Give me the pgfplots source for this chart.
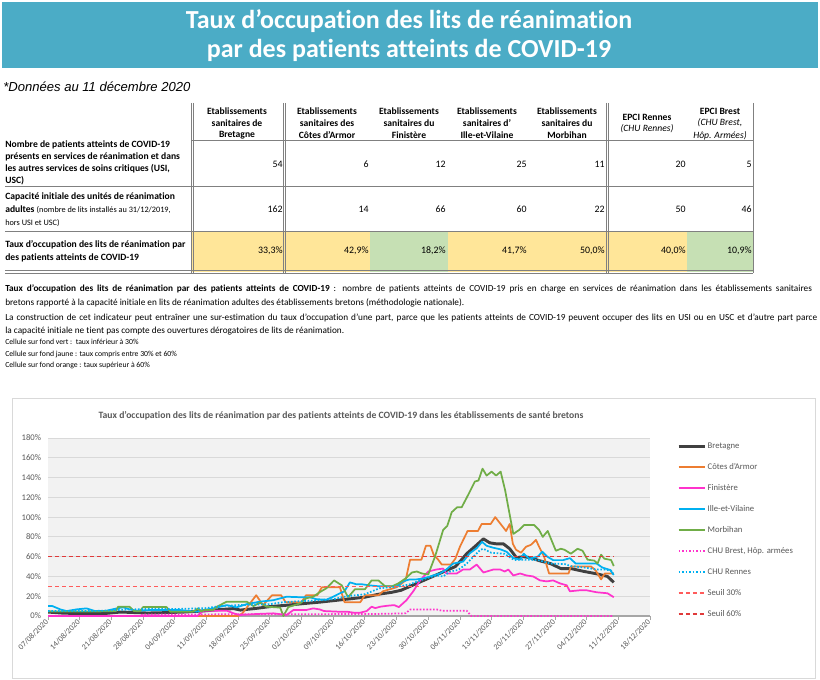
\documentclass[border=0pt]{standalone}
\usepackage{pgfplots}
\pgfplotsset{compat=1.18}
\usepackage{fontspec}
\setmainfont{Carlito}[Ligatures={TeX,NoCommon}]
\newfontfamily\arialfont{Liberation Sans}
\definecolor{banner}{HTML}{4BACC6}
\definecolor{ylw}{HTML}{FFE699}
\definecolor{grn}{HTML}{C6E0B4}
\definecolor{tline}{HTML}{808080}
\definecolor{plotbg}{HTML}{F2F2F2}
\definecolor{gridc}{HTML}{D9D9D9}
\definecolor{txtg}{HTML}{595959}
\definecolor{colBre}{HTML}{404040}
\definecolor{colCot}{HTML}{ED7D31}
\definecolor{colFin}{HTML}{FF33CC}
\definecolor{colIll}{HTML}{00B0F0}
\definecolor{colMor}{HTML}{70AD47}
\definecolor{colSa}{HTML}{FF5B5B}
\definecolor{colSb}{HTML}{E03A3A}
\newcommand{\fs}[1]{\fontsize{#1}{#1}\selectfont}
\newcommand{\lgt}[1]{\textcolor{txtg}{#1}}

\begin{document}
\begin{tikzpicture}
\begin{scope}[x=0.75pt,y=-0.75pt]
\useasboundingbox (0,0) rectangle (820,680);
\fill[white] (0,0) rectangle (820,680);
% banner
\fill[banner] (2,2) rectangle (818,68);
\node[text=white, font=\fs{19.5}\bfseries] at (409,21) {Taux d’occupation des lits de réanimation};
\node[text=white, font=\fs{19.5}\bfseries] at (409,50) {par des patients atteints de COVID-19};
\node[anchor=west, inner sep=0pt, font=\arialfont\itshape\fs{9.8}] at (3,87) {*Données au 11 décembre 2020};
% table backgrounds
\fill[ylw] (192,231) rectangle (370,272);
\fill[grn] (370,231) rectangle (448,272);
\fill[ylw] (448,231) rectangle (687,272);
\fill[grn] (687,231) rectangle (753,272);
% table lines
\draw[tline, line width=0.5pt] (192,140) -- (753,140);
\draw[tline, line width=0.5pt] (5,186) -- (753,186);
\draw[tline, line width=0.5pt] (5,231) -- (753,231);
\draw[tline, line width=0.5pt] (5,270.5) -- (753,270.5);
\draw[tline, line width=0.5pt] (5,273) -- (753,273);
\foreach \xx in {191,283,606}{
  \draw[tline, line width=0.5pt] (\xx,103) -- (\xx,273);
  \draw[tline, line width=0.5pt] (\xx+2.5,103) -- (\xx+2.5,273);
}
\draw[tline, line width=0.5pt] (753,103) -- (753,273);
% header
\tikzset{hd/.style={font=\fs{7.2}\bfseries, inner sep=0pt}}
\foreach \cx/\la/\lb/\lc in {237/Etablissements/sanitaires de/Bretagne,
  327/Etablissements/sanitaires des/Côtes d'Armor,
  409/Etablissements/sanitaires du/Finistère,
  487/Etablissements/sanitaires d'/Ille-et-Vilaine,
  567/Etablissements/sanitaires du/Morbihan}{
  \node[hd] at (\cx,111) {\la};
  \node[hd] at (\cx,123) {\lb};
  \node[hd] at (\cx,135.5) {\lc};
}
\node[hd] at (647,117) {EPCI Rennes};
\node[font=\fs{7.2}\itshape, inner sep=0pt] at (647,129) {(CHU Rennes)};
\node[hd] at (720,111) {EPCI Brest};
\node[font=\fs{7.2}\itshape, inner sep=0pt] at (720,123) {(CHU Brest,};
\node[font=\fs{7.2}\itshape, inner sep=0pt] at (720,135.5) {Hôp. Armées)};
% row labels
\tikzset{rl/.style={font=\fs{7.2}\bfseries, inner sep=0pt, anchor=west}}
\node[rl] at (5,145) {Nombre de patients atteints de COVID-19};
\node[rl] at (5,157) {présents en services de réanimation et dans};
\node[rl] at (5,169) {les autres services de soins critiques (USI,};
\node[rl] at (5,181) {USC)};
\node[rl] at (5,197) {Capacité initiale des unités de réanimation};
\node[rl] at (5,210) {adultes \mdseries\fs{6.2}(nombre de lits installés au 31/12/2019,};
\node[rl, font=\fs{6.2}] at (5,223) {hors USI et USC)};
\node[rl] at (5,245) {Taux d’occupation des lits de réanimation par};
\node[rl] at (5,258) {des patients atteints de COVID-19};
% values
\tikzset{vl/.style={font=\fs{7.4}, inner sep=0pt, anchor=east}}
\foreach \rx/\va/\vb/\vc in {283/54/162/{33,3\%}, 369/6/14/{42,9\%}, 446/12/66/{18,2\%},
  527/25/60/{41,7\%}, 605/11/22/{50,0\%}, 686/20/50/{40,0\%}, 752/5/46/{10,9\%}}{
  \node[vl] at (\rx,164) {\va};
  \node[vl] at (\rx,209) {\vb};
  \node[vl] at (\rx,251) {\vc};
}
% paragraph
\tikzset{pl/.style={font=\fs{6.95}, inner sep=0pt, anchor=west}}
\node[pl] at (5,289) {\makebox[605pt][s]{\textbf{Taux d’occupation des lits de réanimation par des patients atteints de COVID-19} : nombre de patients atteints de COVID-19 pris en charge en services de réanimation dans les établissements sanitaires}};
\node[pl] at (5,303) {bretons rapporté à la capacité initiale en lits de réanimation adultes des établissements bretons (méthodologie nationale).};
\node[pl] at (5,318) {\makebox[609pt][s]{La construction de cet indicateur peut entraîner une sur-estimation du taux d'occupation d'une part, parce que les patients atteints de COVID-19 peuvent occuper des lits en USI ou en USC et d'autre part parce}};
\node[pl] at (5,331) {la capacité initiale ne tient pas compte des ouvertures dérogatoires de lits de réanimation.};
\tikzset{cl/.style={font=\fs{5.8}, inner sep=0pt, anchor=west}}
\node[cl] at (5,342) {Cellule sur fond vert :\ \ taux inférieur à 30\%};
\node[cl] at (5,354) {Cellule sur fond jaune : taux compris entre 30\% et 60\%};
\node[cl] at (5,365) {Cellule sur fond orange : taux supérieur à 60\%};
% chart box
\draw[gridc, line width=0.6pt, fill=white] (12,398) rectangle (815,678);
\node[font=\fs{7.25}\bfseries, text=txtg] at (341,416) {Taux d’occupation des lits de réanimation par des patients atteints de COVID-19 dans les établissements de santé bretons};
\end{scope}

\begin{axis}[
  at={(36pt,-462pt)}, anchor=south west, scale only axis,
  width=451.5pt, height=133.5pt,
  xmin=0, xmax=133, ymin=0, ymax=180,
  axis background/.style={fill=plotbg},
  axis x line*=bottom, axis y line*=left,
  y axis line style={draw=none},
  x axis line style={draw=gray!70, line width=1pt},
  ytick={0,20,...,180},
  yticklabels={0\%,20\%,40\%,60\%,80\%,100\%,120\%,140\%,160\%,180\%},
  ytick style={draw=none},
  ymajorgrids, grid style={gridc, line width=0.6pt},
  xtick={0,7,...,133},
  xticklabels={07/08/2020,14/08/2020,21/08/2020,28/08/2020,04/09/2020,11/09/2020,18/09/2020,25/09/2020,02/10/2020,09/10/2020,16/10/2020,23/10/2020,30/10/2020,06/11/2020,13/11/2020,20/11/2020,27/11/2020,04/12/2020,11/12/2020,18/12/2020},
  tick align=outside, major tick length=3pt,
  xtick style={draw=gray!70, line width=0.6pt},
  xticklabel style={rotate=45, anchor=east, font=\fs{6}, text=txtg, inner sep=1pt},
  yticklabel style={font=\fs{6.5}, text=txtg, inner sep=2pt},
  legend style={at={(1.038,1.0)}, anchor=north west, draw=none, fill=none,
    font=\fs{6.5}, row sep=7.75pt,
    nodes={inner sep=1pt, text height=5pt, text depth=1pt}},
  legend cell align=left,
  legend image code/.code={\draw[mark repeat=2,mark phase=2,#1] plot coordinates {(0pt,0pt) (9.75pt,0pt) (19.5pt,0pt)};},
  every axis plot/.append style={line join=round},
]
\addplot[forget plot, color=colBre, line width=2.2pt] coordinates {(0,4) (3,3) (6,2.5) (10,2.5) (13,2.7) (16,4) (19,3.5) (22,3) (26,3.4) (30,4) (34,5) (38,6.5) (41,7.5) (42.5,6) (46,7.7) (49,9.5) (53,11) (57,12.8) (60,14) (63,15.5) (66,17) (70,19) (73,22) (76,24) (78,26) (80,30) (82,34) (84,38) (86,42) (88,46) (90,50) (91,55) (92.5,63) (94.5,71) (96.2,78) (97.6,74) (99,73) (100.6,73) (102,68) (103.5,59) (105,60) (106.5,59) (108.5,56) (111,53) (113.3,48) (115.5,48) (118.5,45) (121.4,42.5) (123.6,40) (125,34)};
\addplot[forget plot, color=colCot, line width=1.3pt] coordinates {(0,0) (42,0) (43,3) (46,21) (47.5,11) (49.5,21) (51.5,21) (52.5,14) (56,14) (57,21) (59.5,21) (60.5,29) (64.5,29) (65.5,14) (69,14) (70,21) (73,21) (74,25) (77,29) (79,36) (80,57) (82.5,57) (83.5,71) (84.5,71) (85.2,62) (86.2,57) (87,52) (89,52) (90,58) (91,70) (92.7,86) (95,86) (95.8,93) (97.8,93) (98.8,100) (100,93) (101.2,86) (102,93) (102.7,73) (103.4,67) (104.5,64) (105.6,70) (106.7,72) (107.8,77) (108.5,70) (109.6,60) (110.7,43) (115,43) (115.5,50) (120,50) (121,46) (122.2,37) (123,43) (125,43)};
\addplot[forget plot, color=colFin, line width=1.3pt] coordinates {(0,0) (33,0) (34.3,5.4) (39.5,5.4) (41,2.7) (42.4,1) (46,2) (49.8,2.7) (52.7,1) (54.2,6) (57,6) (58.6,7.7) (60,6.7) (61,5) (64,4.4) (66,4.4) (67.5,3.4) (69,3.4) (70.4,5) (71.5,9.4) (72.3,8) (73.4,9.4) (75,10.4) (76.5,11) (77.5,9) (79.2,16) (80.7,25) (82.2,36) (84,45) (85.8,47) (87.3,48) (88,43) (90.3,43) (91.7,47) (93.2,47) (94.7,52) (96.2,44) (98.4,47) (99.9,47) (100.9,45) (101.7,47) (102.8,41) (104.3,43) (105.7,41) (107.2,40) (108.7,36) (110.2,35) (111.6,36) (113.1,33) (114.6,31) (115.3,25) (117.5,26) (119,26) (121.2,24) (123.6,23) (125,19)};
\addplot[forget plot, color=colIll, line width=1.3pt] coordinates {(0,10) (1,10) (2.7,6.7) (4.1,5) (6.3,6.7) (8.5,7.7) (10.4,5) (12.6,5) (15.2,7.7) (16.6,8.8) (18,6.7) (19.6,5.4) (22.5,6) (26.2,6) (29.2,6) (32.8,4.4) (34.3,6) (36.5,7.7) (39.5,11) (41.7,8.8) (43.9,12) (46.8,14.5) (49.8,16) (52.7,19.5) (55.7,19) (57.8,19) (59.3,17) (61.5,16.5) (63,19.5) (64.5,23) (65.5,25) (66.7,34) (68.2,32) (69.5,32) (71,31) (73.2,30) (74.7,30) (77,30) (78.4,35) (79.9,37) (81.4,37) (82.9,38) (84.4,40) (86.6,43) (88,47) (89.5,53) (91.7,55) (93.2,63.5) (94.7,68.5) (95.9,75) (96.9,71) (98.4,69) (99.9,67.5) (101.3,65) (102.8,58.5) (104.3,57) (105.1,63) (106.3,58) (108.2,60) (109.2,65) (110.3,60) (111.6,56.5) (113.8,56.5) (115.3,58.5) (116.6,53) (121.2,53) (122.5,49) (124.2,46.5) (125,41.5)};
\addplot[forget plot, color=colMor, line width=1.3pt] coordinates {(0,4.5) (10,4.5) (15,5) (15.5,9.4) (18,9.4) (19,5) (20.3,4.8) (21,9) (26.2,9) (27,4.4) (32,4.4) (33.2,7.7) (33.8,4.5) (34.5,6) (36.5,6) (37.3,9.4) (39.5,14.5) (43.9,14.5) (45.4,10) (46.8,13.5) (48.3,9.4) (51.3,8.5) (52,0) (53.1,9) (55.7,12.8) (57.1,18) (58.6,19.5) (60,24) (61.5,28) (63.2,36) (64.9,31) (66.3,19) (67.8,27) (70,27) (71.5,36) (73,36) (74.5,30) (76,30) (77.4,33) (79,38) (80.4,44) (81.5,45) (82.6,43) (84,42) (85.5,60) (86.5,75) (87.3,87) (88.2,91) (89.2,105) (90.4,110) (91.4,110) (93,124) (94.3,136) (95.1,137) (96,149) (96.9,142) (98,146) (99,142) (100,146) (101,127) (102.8,83) (104.1,87) (105.2,92) (107.4,92) (108.5,87) (109.3,80) (110.4,86) (112.2,66) (113.3,68) (114.1,67) (115.5,63) (117,68) (118.1,66) (119.2,57) (120.7,56) (121.4,53) (122.2,62) (122.9,58) (124.4,56.6) (125,50.5)};
\addplot[forget plot, color=colFin, line width=1.3pt, dash pattern=on 1.2pt off 1.3pt] coordinates {(0,0) (20,0) (21,1.5) (72,2) (79,2.7) (80,6.5) (86,6.5) (87,5.4) (92.5,5.4) (93.5,0) (125,0)};
\addplot[forget plot, color=colIll, line width=1.3pt, dash pattern=on 1.2pt off 1.3pt] coordinates {(0,5) (10,5) (15,6) (21,7) (28,7) (35,8) (38,10) (42,11) (49,12) (52,14) (56,15) (60,16) (63,17) (66,20) (70,22) (73.2,28) (77.6,30) (79.9,32) (83.5,38) (85.8,41) (87.3,40) (88.8,45) (90.6,46.5) (92.5,53) (94,60) (95.5,67) (96.2,68) (97.9,64) (100.8,63) (103,56.6) (105.2,57) (108.2,56.6) (111.1,53) (114.1,52.6) (115.5,50.5) (118.5,49) (121.4,47) (122.9,47) (124.4,46) (125,41.5)};
\addplot[forget plot, color=colSa, line width=1.1pt, dash pattern=on 3pt off 2.3pt] coordinates {(0,30) (125,30)};
\addplot[forget plot, color=colSb, line width=1.1pt, dash pattern=on 3pt off 2.3pt] coordinates {(0,60) (125,60)};
% legend images
\addlegendimage{color=colBre, line width=2.4pt}
\addlegendentry{\lgt{Bretagne}}
\addlegendimage{color=colCot, line width=1.6pt}
\addlegendentry{\lgt{Côtes d’Armor}}
\addlegendimage{color=colFin, line width=1.6pt}
\addlegendentry{\lgt{Finistère}}
\addlegendimage{color=colIll, line width=1.6pt}
\addlegendentry{\lgt{Ille-et-Vilaine}}
\addlegendimage{color=colMor, line width=1.6pt}
\addlegendentry{\lgt{Morbihan}}
\addlegendimage{color=colFin, line width=1.6pt, dash pattern=on 1.3pt off 1.3pt}
\addlegendentry{\lgt{CHU Brest, Hôp. armées}}
\addlegendimage{color=colIll, line width=1.6pt, dash pattern=on 1.3pt off 1.3pt}
\addlegendentry{\lgt{CHU Rennes}}
\addlegendimage{color=colSa, line width=1.5pt, dash pattern=on 3pt off 2.3pt}
\addlegendentry{\lgt{Seuil 30\%}}
\addlegendimage{color=colSb, line width=1.5pt, dash pattern=on 3pt off 2.3pt}
\addlegendentry{\lgt{Seuil 60\%}}
\end{axis}
\end{tikzpicture}
\end{document}
